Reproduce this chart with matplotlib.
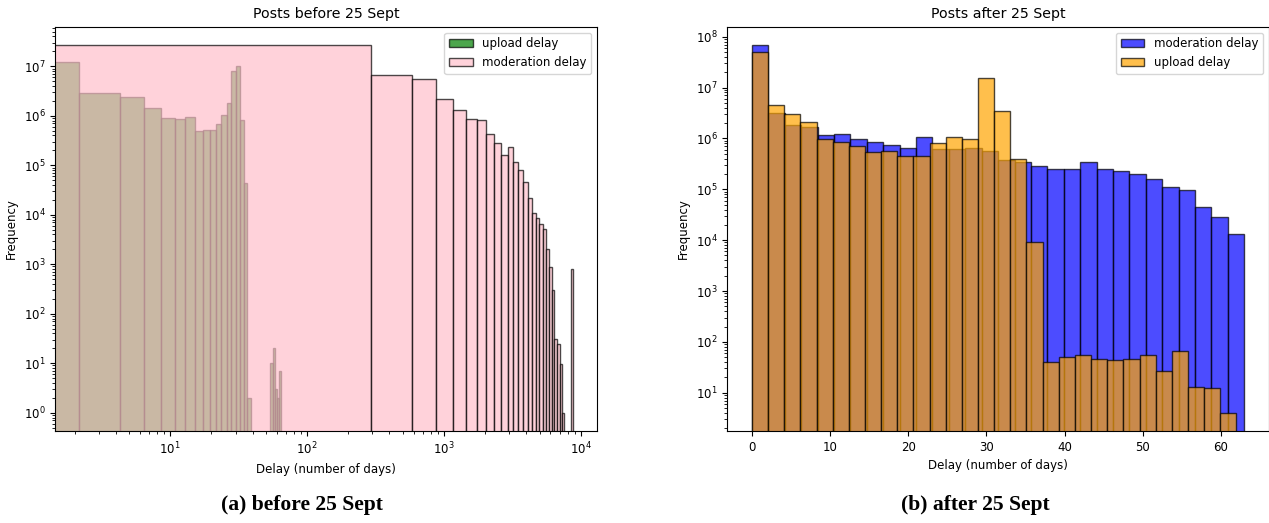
import numpy as np
import matplotlib
matplotlib.use("Agg")
import matplotlib.pyplot as plt

# ── Data ──────────────────────────────────────────────────────────────────────
N_BINS = 30

# before 25 Sept: max delays define the linear bin range
before_upload_max = 64.6
before_moderation_max = 8760
before_upload = [1.22e7, 2.9e6, 2.36e6, 1.41e6, 9.1e5, 8.5e5, 9.6e5, 4.9e5,
                 5.1e5, 5.2e5, 6.7e5, 1.04e6, 1.84e6, 7.9e6, 1.03e7, 8.2e5,
                 4.3e4, 2, 0, 0, 0, 0, 0, 0, 0, 10, 20, 3, 2, 7]
before_moderation = [2.67e7, 6.7e6, 5.5e6, 2.2e6, 1.33e6, 8.7e5, 8.1e5, 4.3e5,
                     2.85e5, 1.63e5, 2.3e5, 1.16e5, 7.9e4, 4.5e4, 2.14e4, 1.1e4,
                     8.7e3, 6.5e3, 5.2e3, 2.05e3, 880, 306, 31, 24, 9.7, 1,
                     0, 0, 0, 790]

# after 25 Sept
after_moderation_max = 63
after_upload_max = 62
after_moderation = [6.96e7, 3.1e6, 1.81e6, 1.65e6, 1.18e6, 1.2e6, 9.9e5, 8.6e5,
                    7.4e5, 6.6e5, 1.07e6, 6.1e5, 6.3e5, 6.4e5, 5.7e5, 3.8e5,
                    3.4e5, 2.9e5, 2.5e5, 2.5e5, 3.4e5, 2.5e5, 2.3e5, 2.0e5,
                    1.57e5, 1.12e5, 9.7e4, 4.5e4, 2.85e4, 1.34e4]
after_upload = [5.07e7, 4.5e6, 3.0e6, 2.13e6, 9.8e5, 8.6e5, 7.2e5, 5.3e5,
                5.7e5, 4.6e5, 4.5e5, 8.3e5, 1.08e6, 9.9e5, 1.55e7, 3.46e6,
                4.0e5, 9.3e3, 40.7, 49.7, 56, 46.5, 44, 46, 56, 26.9, 67,
                13, 12.2, 4]

captions = ["(a) before 25 Sept", "(b) after 25 Sept"]


def draw_hist(ax, max_val, counts, color, label):
    edges = np.linspace(0, max_val, N_BINS + 1)
    centers = (edges[:-1] + edges[1:]) / 2
    ax.hist(centers, bins=edges, weights=counts, color=color,
            edgecolor="black", alpha=0.7, label=label)


plt.rcParams["font.size"] = 8.5
fig = plt.figure(figsize=(12.69, 5.23), dpi=100)
W, H = 1269, 523

# ── Left: before 25 Sept (log x) ─────────────────────────────────────────────
ax1 = fig.add_axes([55.3 / W, 1 - 431 / H, (597.3 - 55.3) / W, (431 - 26.7) / H])
draw_hist(ax1, before_upload_max, before_upload, "green", "upload delay")
draw_hist(ax1, before_moderation_max, before_moderation, "pink", "moderation delay")
ax1.set_xscale("log")
ax1.set_yscale("log")
ax1.set_xlim(1.446, 13200)
ax1.set_ylim(0.427, 6.3e7)
ax1.set_title("Posts before 25 Sept", fontsize=10.2)
ax1.set_xlabel("Delay (number of days)")
ax1.set_ylabel("Frequency")
ax1.legend(loc="upper right")

# ── Right: after 25 Sept (linear x) ──────────────────────────────────────────
ax2 = fig.add_axes([727.4 / W, 1 - 431 / H, (1268.8 - 727.4) / W, (431 - 26.7) / H])
draw_hist(ax2, after_moderation_max, after_moderation, "blue", "moderation delay")
draw_hist(ax2, after_upload_max, after_upload, "orange", "upload delay")
ax2.set_yscale("log")
ax2.set_xlim(-3.15, 66.15)
ax2.set_ylim(1.77, 1.57e8)
ax2.set_title("Posts after 25 Sept", fontsize=10.2)
ax2.set_xlabel("Delay (number of days)")
ax2.set_ylabel("Frequency")
ax2.legend(loc="upper right")

# ── Sub-figure captions ──────────────────────────────────────────────────────
for xc, cap in zip([302 / W, 975 / W], captions):
    fig.text(xc, 1 - 505 / H, cap, ha="center", va="center",
             family="Liberation Serif", fontweight="bold", fontsize=15.6)

fig.savefig("out.png", dpi=100)
